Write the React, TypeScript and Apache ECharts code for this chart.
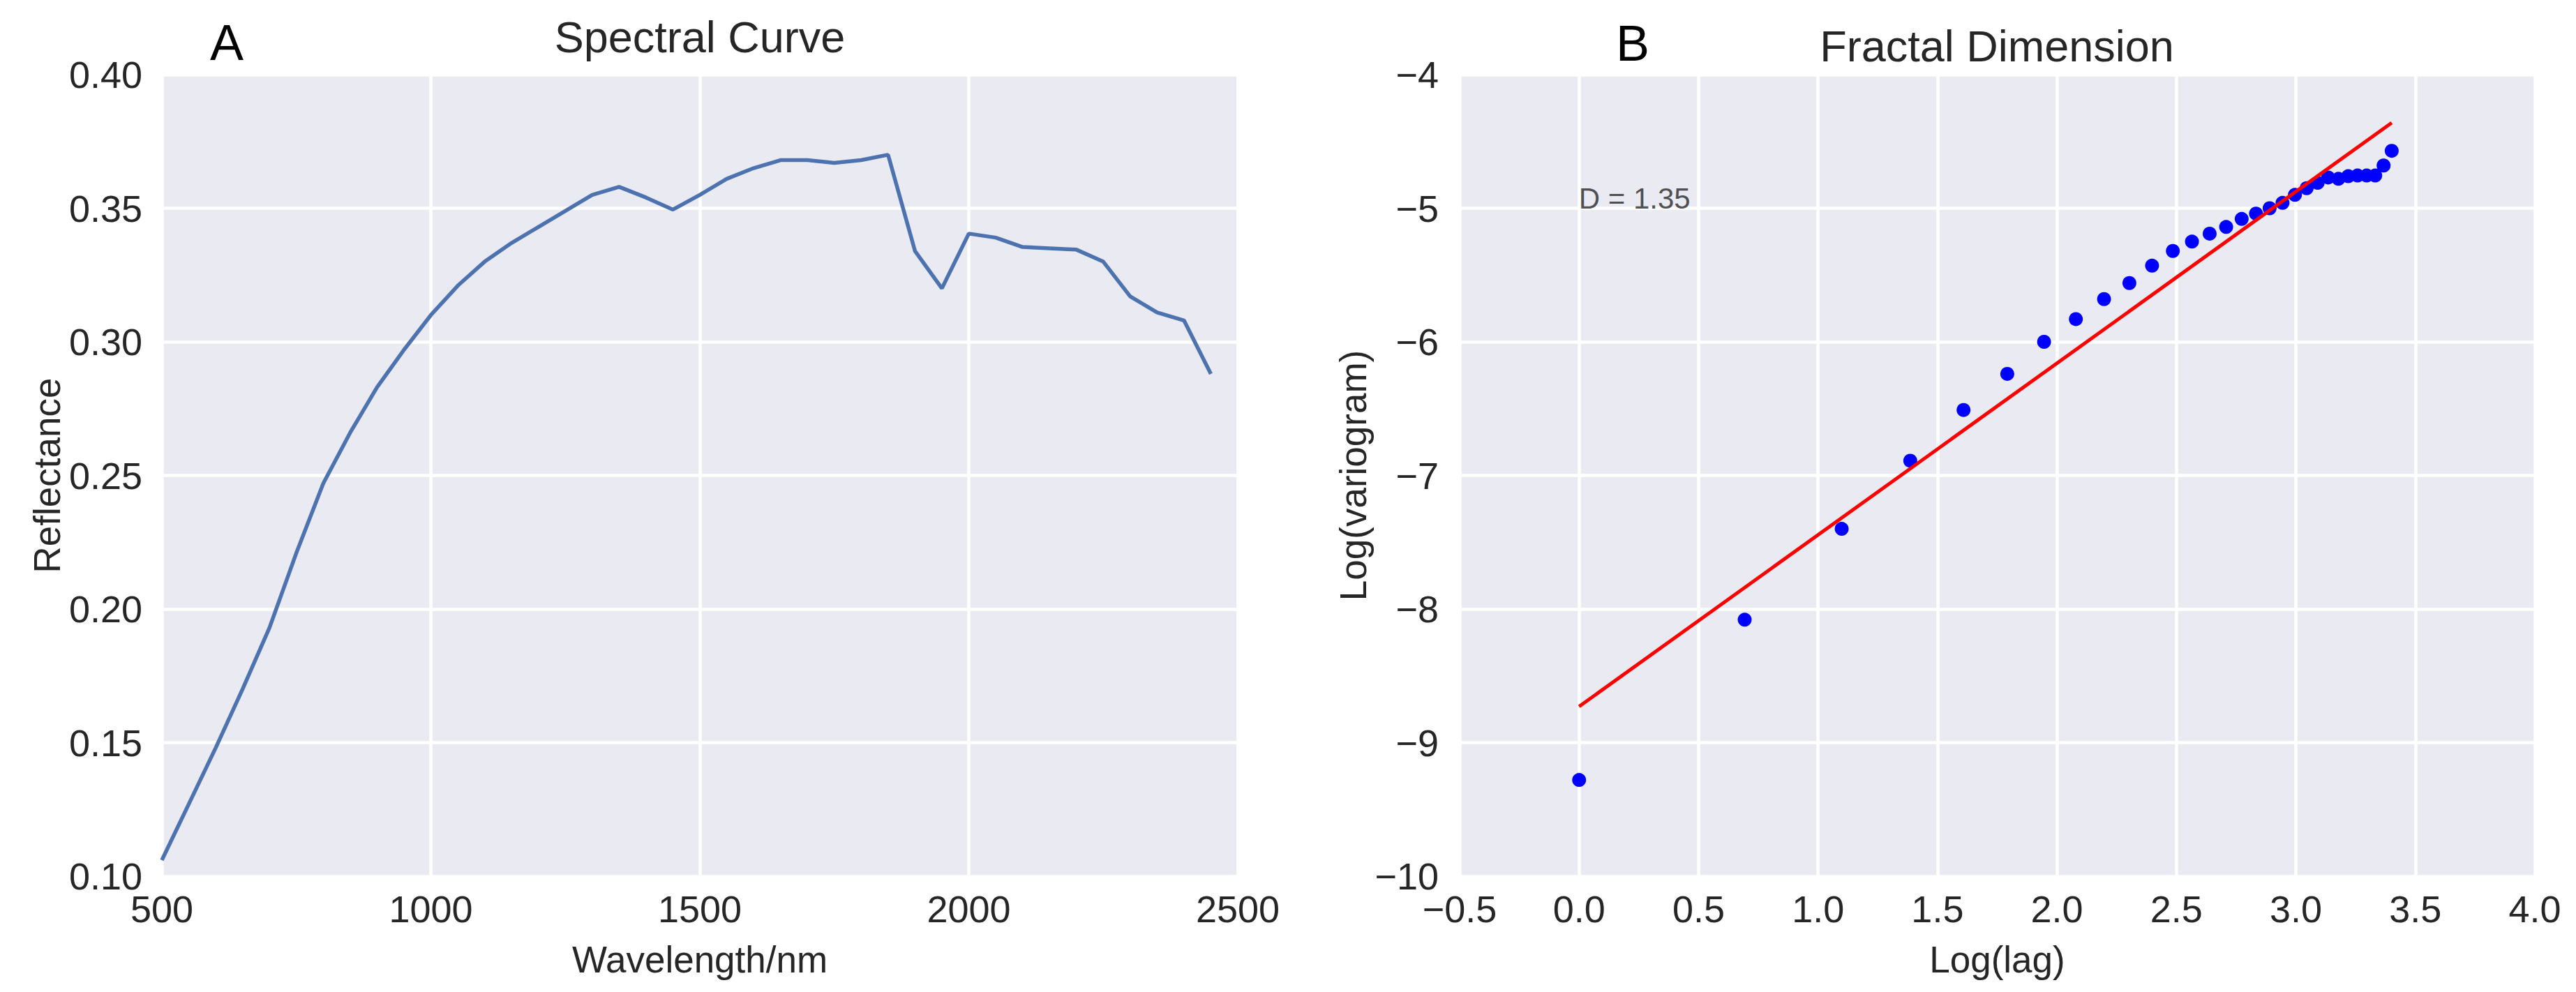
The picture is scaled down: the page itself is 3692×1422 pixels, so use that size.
import React, { useEffect, useRef } from "react";
import * as echarts from "echarts";

const wavelengths = [500, 550, 600, 650, 700, 750, 800, 850, 900, 950, 1000, 1050, 1100, 1150, 1200, 1250, 1300, 1350, 1400, 1450, 1500, 1550, 1600, 1650, 1700, 1750, 1800, 1850, 1900, 1950, 2000, 2050, 2100, 2150, 2200, 2250, 2300, 2350, 2400, 2450];
const reflectance = [0.106, 0.127, 0.148, 0.170, 0.193, 0.221, 0.247, 0.266, 0.283, 0.297, 0.310, 0.321, 0.330, 0.337, 0.343, 0.349, 0.355, 0.358, 0.354, 0.3495, 0.355, 0.361, 0.365, 0.368, 0.368, 0.367, 0.368, 0.370, 0.334, 0.320, 0.3405, 0.339, 0.3355, 0.335, 0.3345, 0.330, 0.317, 0.311, 0.308, 0.288];

const logLag = [0, 0.693, 1.099, 1.386, 1.609, 1.792, 1.946, 2.079, 2.197, 2.303, 2.398, 2.485, 2.565, 2.639, 2.708, 2.773, 2.833, 2.890, 2.944, 2.996, 3.045, 3.091, 3.135, 3.178, 3.219, 3.258, 3.296, 3.332, 3.367, 3.401];
const logVariogram = [-9.28, -8.08, -7.40, -6.89, -6.51, -6.24, -6.00, -5.83, -5.68, -5.56, -5.43, -5.32, -5.25, -5.19, -5.14, -5.08, -5.04, -5.00, -4.96, -4.90, -4.85, -4.81, -4.77, -4.78, -4.76, -4.755, -4.755, -4.755, -4.68, -4.57];

const fitX = [0, 3.401];
const fitY = [-8.73, -4.36];

const annotationX = [0];
const annotationY = [-5];
const annotationText = "D = 1.35";

const leftXTicks = { min: 500, max: 2500, interval: 500 };
const leftYTicks = { min: 0.1, max: 0.4, interval: 0.05 };
const rightXTicks = { min: -0.5, max: 4.0, interval: 0.5 };
const rightYTicks = { min: -10, max: -4, interval: 1 };

const FONT = "'Liberation Sans', Arial, Helvetica, sans-serif";
const TEXT = "#262626";
const BG = "#EAEAF2";

const minus = (s: string) => s.replace(/^-/, "\u2212");

export default function App() {
  const ref = useRef<HTMLDivElement>(null);
  useEffect(() => {
    if (!ref.current) return;
    const chart = echarts.init(ref.current, undefined, { renderer: "svg" });
    const axisCommon = {
      type: "value" as const,
      axisLine: { show: false },
      axisTick: { show: false },
      splitLine: { show: true, lineStyle: { color: "#ffffff", width: 4.5 } },
      nameLocation: "middle" as const,
      nameTextStyle: { fontSize: 53, color: TEXT, fontFamily: FONT },
    };
    const labelCommon = { fontSize: 54, color: TEXT, fontFamily: FONT };
    const option = {
      animation: false,
      backgroundColor: "#ffffff",
      textStyle: { fontFamily: FONT },
      grid: [
        { left: 232, top: 107, width: 1542, height: 1149, show: true, backgroundColor: BG, borderWidth: 0 },
        { left: 2092, top: 107, width: 1541, height: 1149, show: true, backgroundColor: BG, borderWidth: 0 },
      ],
      xAxis: [
        {
          ...axisCommon,
          gridIndex: 0,
          ...leftXTicks,
          name: "Wavelength/nm",
          nameGap: 93,
          axisLabel: { ...labelCommon, margin: 20, formatter: (v: number) => String(v) },
        },
        {
          ...axisCommon,
          gridIndex: 1,
          ...rightXTicks,
          name: "Log(lag)",
          nameGap: 93,
          axisLabel: { ...labelCommon, margin: 20, formatter: (v: number) => minus(v.toFixed(1)) },
        },
      ],
      yAxis: [
        {
          ...axisCommon,
          gridIndex: 0,
          ...leftYTicks,
          name: "Reflectance",
          nameGap: 138,
          axisLabel: { ...labelCommon, margin: 28, formatter: (v: number) => v.toFixed(2) },
        },
        {
          ...axisCommon,
          gridIndex: 1,
          ...rightYTicks,
          name: "Log(variogram)",
          nameGap: 126,
          axisLabel: { ...labelCommon, margin: 30, formatter: (v: number) => minus(String(v)) },
        },
      ],
      series: [
        {
          type: "line",
          xAxisIndex: 0,
          yAxisIndex: 0,
          data: wavelengths.map((w, i) => [w, reflectance[i]]),
          showSymbol: false,
          symbol: "none",
          lineStyle: { color: "#4C72B0", width: 5.5 },
          z: 3,
        },
        {
          type: "scatter",
          xAxisIndex: 1,
          yAxisIndex: 1,
          data: logLag.map((x, i) => [x, logVariogram[i]]),
          symbol: "circle",
          symbolSize: 20,
          itemStyle: { color: "#0000FF", opacity: 1 },
          z: 3,
        },
        {
          type: "line",
          xAxisIndex: 1,
          yAxisIndex: 1,
          data: fitX.map((x, i) => [x, fitY[i]]),
          showSymbol: false,
          symbol: "none",
          lineStyle: { color: "#FF0000", width: 5 },
          z: 4,
        },
        {
          type: "scatter",
          xAxisIndex: 1,
          yAxisIndex: 1,
          data: annotationX.map((x, i) => [x, annotationY[i]]),
          symbolSize: 1,
          itemStyle: { color: "rgba(0,0,0,0)" },
          silent: true,
          label: {
            show: true,
            formatter: annotationText,
            position: [0, 0],
            align: "left",
            verticalAlign: "bottom",
            offset: [0, 7],
            fontSize: 42,
            color: TEXT,
            fontFamily: FONT,
          },
          z: 5,
        },
      ],
      graphic: [
        { type: "text", x: 325, y: 61, style: { text: "A", fontSize: 72, fontFamily: FONT, fill: "#000000", align: "center", verticalAlign: "middle" } },
        { type: "text", x: 1003, y: 53, style: { text: "Spectral Curve", fontSize: 63, fontFamily: FONT, fill: TEXT, align: "center", verticalAlign: "middle" } },
        { type: "text", x: 2340, y: 62, style: { text: "B", fontSize: 72, fontFamily: FONT, fill: "#000000", align: "center", verticalAlign: "middle" } },
        { type: "text", x: 2862, y: 66, style: { text: "Fractal Dimension", fontSize: 63, fontFamily: FONT, fill: TEXT, align: "center", verticalAlign: "middle" } },
      ],
    };
    chart.setOption(option as any);
    return () => chart.dispose();
  }, []);
  return (
    <div
      ref={ref}
      style={{ position: "absolute", left: 0, top: 0, width: 3692, height: 1422, background: "#fff" }}
    />
  );
}
